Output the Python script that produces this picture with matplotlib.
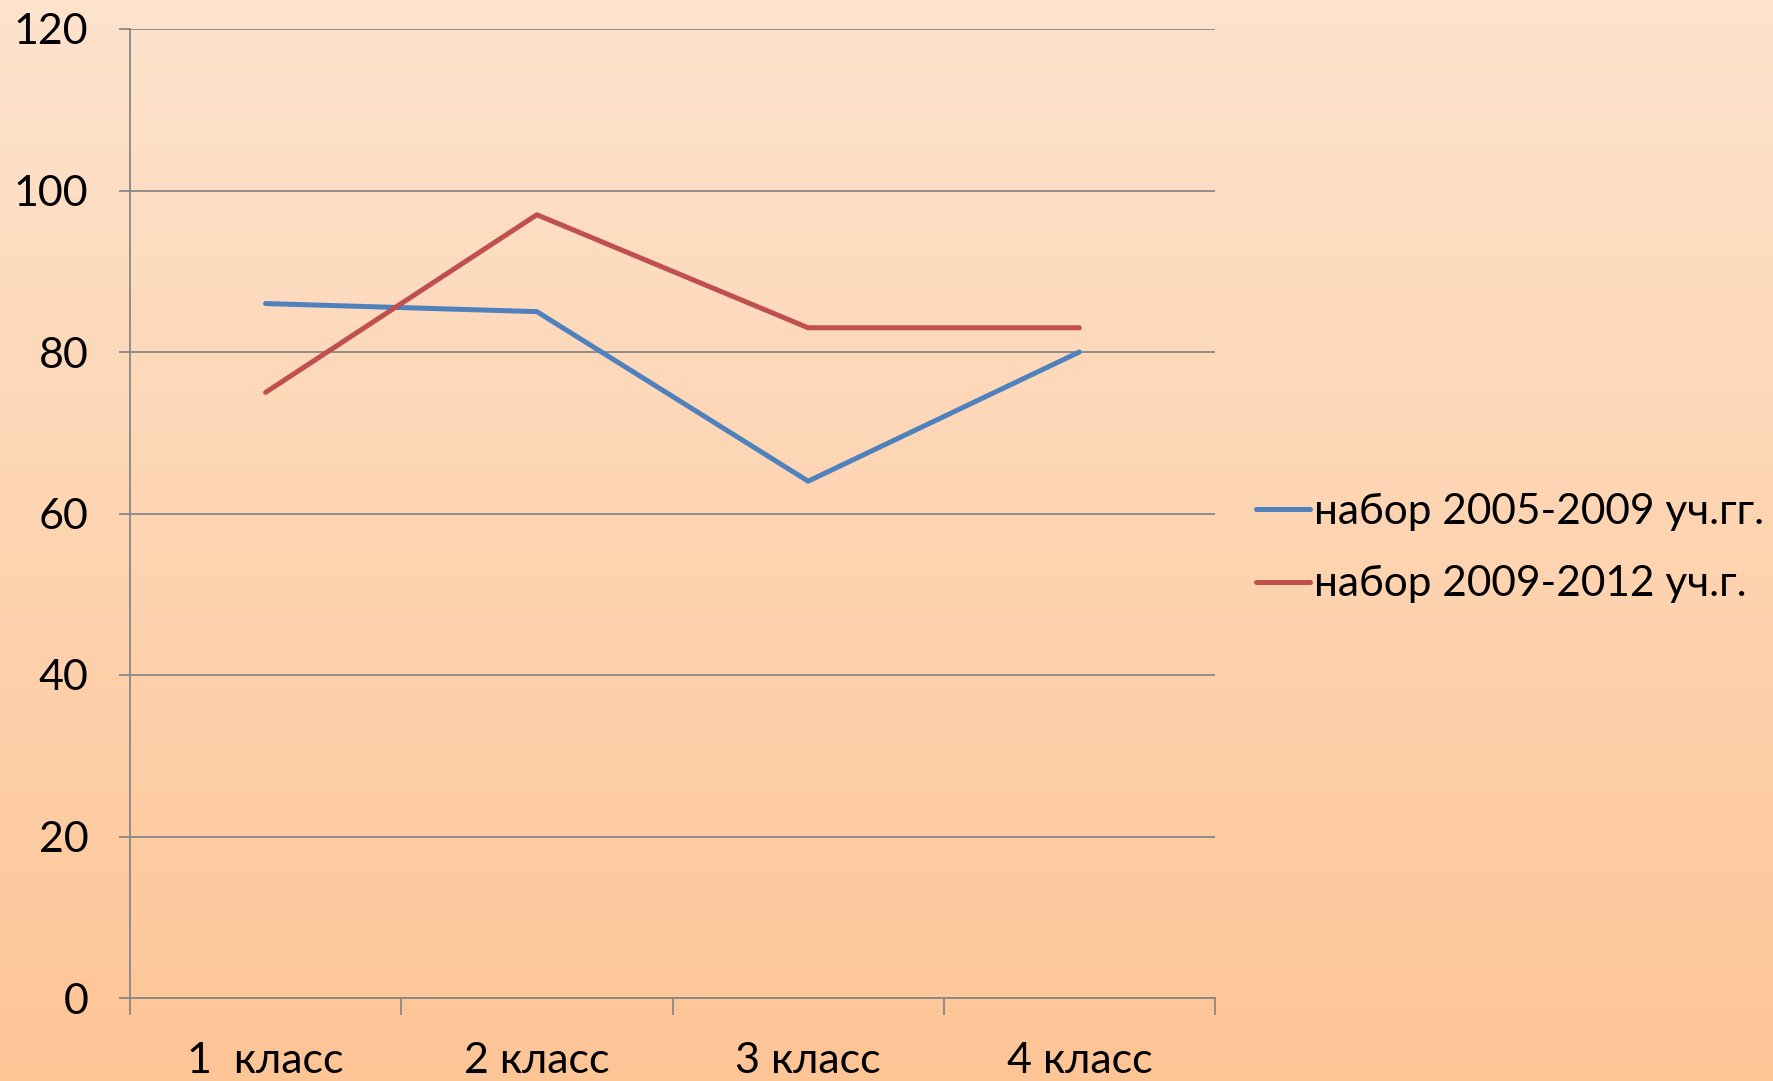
import numpy as np
import matplotlib.pyplot as plt
from matplotlib.colors import LinearSegmentedColormap

# данные с графика
categories = ['1  класс', '2 класс', '3 класс', '4 класс']
nabor_2005 = [86, 85, 64, 80]
nabor_2009 = [75, 97, 83, 83]
series_names = ['набор 2005-2009 уч.гг.', 'набор 2009-2012 уч.г.']

plt.rcParams['font.family'] = ['Lato', 'DejaVu Sans']

fig = plt.figure(figsize=(17.73, 10.81), dpi=100)

# фон - градиент
bg = fig.add_axes([0, 0, 1, 1], zorder=-10)
cmap = LinearSegmentedColormap.from_list('bg', ['#fde3cd', '#fec596'])
grad = np.linspace(0, 1, 256).reshape(-1, 1)
bg.imshow(grad, aspect='auto', cmap=cmap, extent=[0, 1, 0, 1], origin='upper')
bg.axis('off')

W, H = 1773, 1081
ax = fig.add_axes([130 / W, 1 - 998 / H, (1215 - 130) / W, (998 - 29) / H])
ax.set_facecolor('none')

x = np.arange(1, len(categories) + 1)
ax.plot(x, nabor_2005, color='#4f81bd', lw=3.6, label=series_names[0], solid_capstyle='round')
ax.plot(x, nabor_2009, color='#c0504d', lw=3.6, label=series_names[1], solid_capstyle='round')

ax.set_xlim(0.5, len(categories) + 0.5)
ax.set_ylim(0, 120)
ax.set_yticks(range(0, 121, 20))
ax.yaxis.grid(True, color='#878787', lw=1.3)
ax.set_axisbelow(True)

ax.set_xticks(x)
ax.set_xticklabels(categories)
ax.set_xticks(np.arange(0.5, len(categories) + 1, 1), minor=True)
ax.tick_params(axis='x', which='major', length=0, pad=32, labelsize=31)
ax.tick_params(axis='x', which='minor', length=12, width=1.3, color='#878787', direction='out')
ax.tick_params(axis='y', length=8, width=1.3, color='#878787', pad=22, labelsize=31)

for s in ['top', 'right']:
    ax.spines[s].set_visible(False)
for s in ['left', 'bottom']:
    ax.spines[s].set_color('#878787')
    ax.spines[s].set_linewidth(1.3)

fig.legend(loc='center left', bbox_to_anchor=(1218 / W, 1 - 548 / H), frameon=False,
           fontsize=30.5, handlelength=1.27, handletextpad=0.1, labelspacing=0.82)

fig.savefig('out.png', dpi=100)
